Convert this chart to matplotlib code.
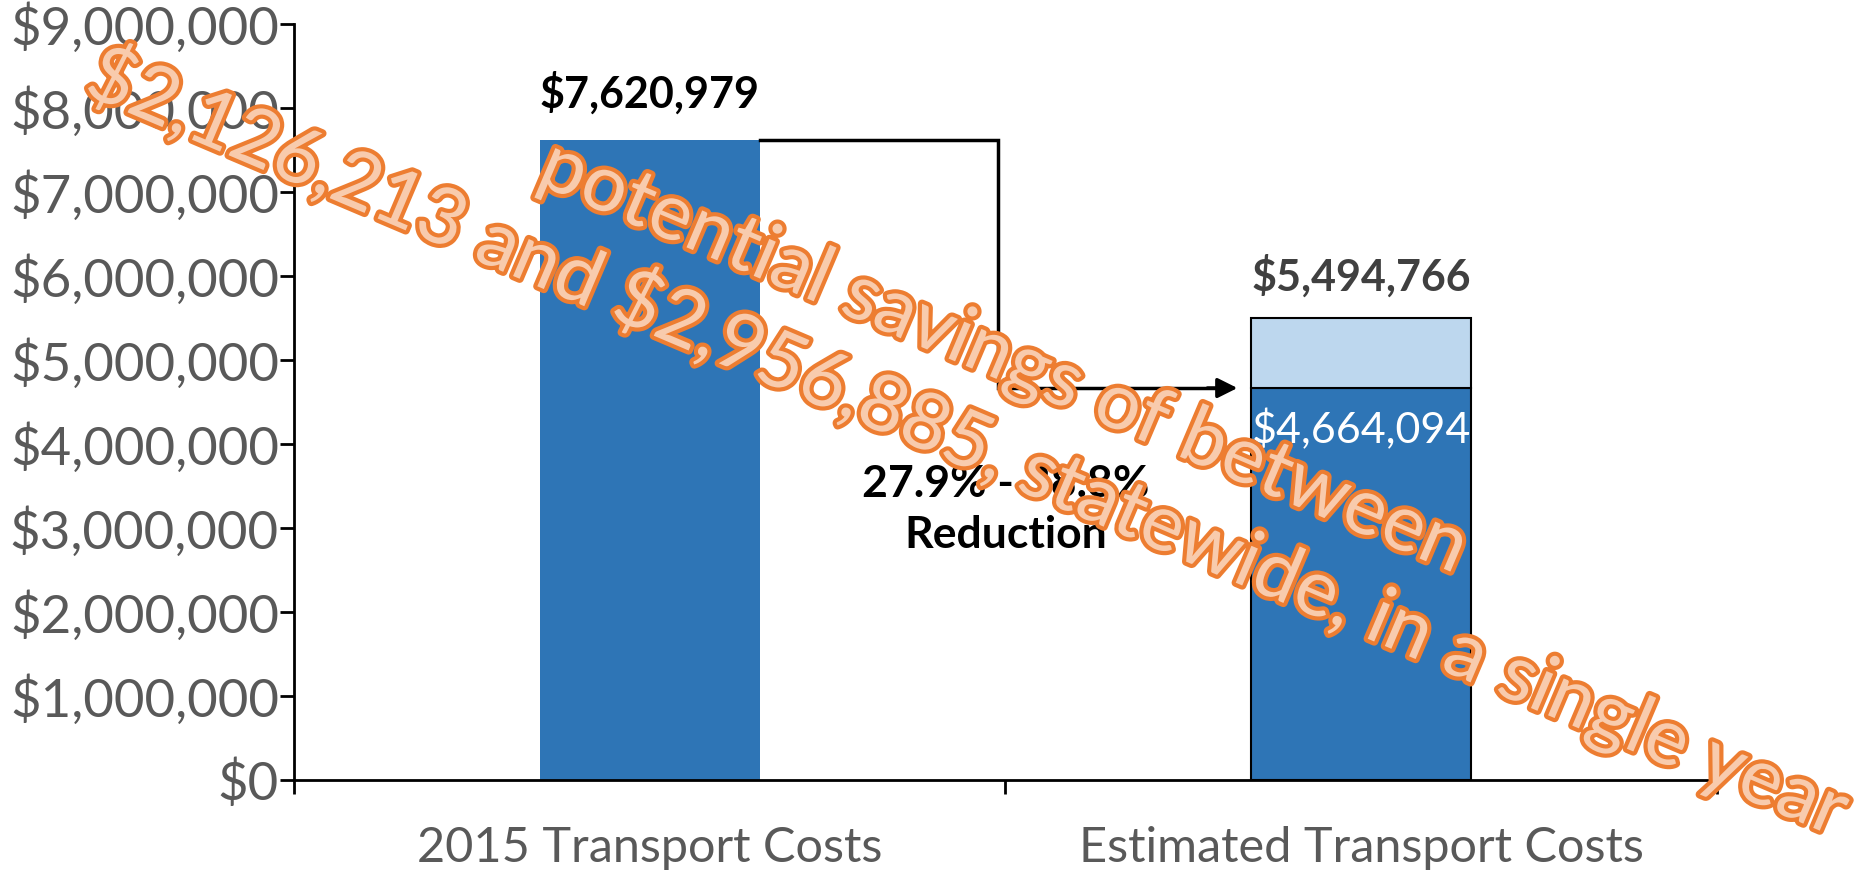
import matplotlib.pyplot as plt
import matplotlib.patheffects as pe
from matplotlib.ticker import FuncFormatter

categories = ["2015 Transport Costs", "Estimated Transport Costs"]
cost_2015 = 7620979
est_low = 4664094
est_high = 5494766
reduction_label = "27.9% - 38.8%\nReduction"
overlay = "potential savings of between\n$2,126,213 and $2,956,885, statewide, in a single year"

plt.rcParams["font.family"] = ["Lato", "DejaVu Sans"]
plt.rcParams["text.parse_math"] = False

fig = plt.figure(figsize=(18.62, 8.76), dpi=100)
ax = fig.add_axes([0.158, 0.1096, 0.764, 0.8634])

dark = "#2E75B6"
light = "#BDD7EE"
w = 0.31

# bars
ax.bar(0, cost_2015, width=w, color=dark, zorder=2)
ax.bar(1, est_low, width=w, color=dark, edgecolor="black", linewidth=1.5, zorder=2)
ax.bar(1, est_high - est_low, bottom=est_low, width=w, color=light,
       edgecolor="black", linewidth=1.5, zorder=2)

# connector step + arrow
xv = 0.49
ax.plot([w / 2, xv, xv, 0.80], [cost_2015, cost_2015, est_low, est_low],
        color="black", lw=2.5, zorder=3, solid_joinstyle="miter")
ax.annotate("", xy=(0.83, est_low), xytext=(0.78, est_low),
            arrowprops=dict(arrowstyle="-|>", color="black", lw=2.5,
                            mutation_scale=30), zorder=3)

# value labels
ax.text(0, 8.18e6, "${:,.0f}".format(cost_2015), ha="center", va="center",
        fontsize=31, fontweight="bold", color="black")
ax.text(1, 6.0e6, "${:,.0f}".format(est_high), ha="center", va="center",
        fontsize=31, fontweight="bold", color="#404040")
ax.text(1, 4.17e6, "${:,.0f}".format(est_low), ha="center", va="center",
        fontsize=31, color="white", zorder=4)
ax.text(0.5, 3.22e6, reduction_label, ha="center", va="center",
        fontsize=32, fontweight="bold", color="black", linespacing=1.35)

# axes styling
ax.set_xlim(-0.5, 1.5)
ax.set_ylim(0, 9e6)
ax.set_yticks(range(0, 9000001, 1000000))
ax.yaxis.set_major_formatter(FuncFormatter(lambda v, p: "${:,.0f}".format(v)))
ax.set_xticks([0, 1])
ax.set_xticklabels(categories)
ax.set_xticks([-0.5, 0.5, 1.5], minor=True)
ax.tick_params(axis="x", which="major", length=0, pad=33, labelsize=35,
               labelcolor="#595959")
ax.tick_params(axis="x", which="minor", length=10, width=2, direction="out")
ax.tick_params(axis="y", length=10, width=2, pad=1, labelsize=38,
               labelcolor="#595959")
for s in ["top", "right"]:
    ax.spines[s].set_visible(False)
for s in ["left", "bottom"]:
    ax.spines[s].set_linewidth(2)

# rotated overlay text
fig.text(0.529, 0.541, overlay, ha="center", va="center", rotation=-23,
         rotation_mode="anchor", multialignment="center", fontsize=57,
         color="#F8CBAD", linespacing=1.2, zorder=10,
         path_effects=[pe.withStroke(linewidth=6, foreground="#ED7D31")])

fig.savefig("out.png", dpi=100)
